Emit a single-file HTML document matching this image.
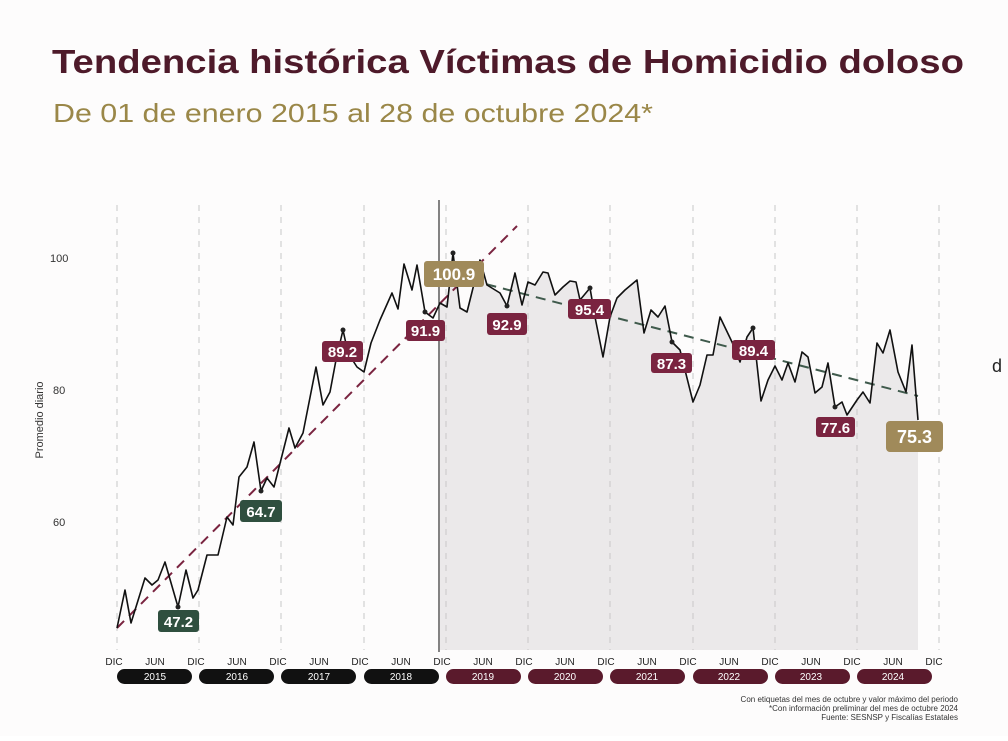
<!DOCTYPE html>
<html><head><meta charset="utf-8"><style>
html,body{margin:0;padding:0;background:#fff;}
body{width:1008px;height:736px;overflow:hidden;font-family:"Liberation Sans",sans-serif;}
</style></head><body>
<svg width="1008" height="736" viewBox="0 0 1008 736" xmlns="http://www.w3.org/2000/svg" font-family="Liberation Sans, sans-serif">
<rect width="1008" height="736" fill="#fdfcfc"/>
<text x="52" y="73" font-size="33" font-weight="bold" fill="#4e1a2a" textLength="912" lengthAdjust="spacingAndGlyphs">Tendencia histórica Víctimas de Homicidio doloso</text>
<text x="53" y="122" font-size="26" fill="#9a8748" textLength="600" lengthAdjust="spacingAndGlyphs">De 01 de enero 2015 al 28 de octubre 2024*</text>
<text x="992" y="372" font-size="18" fill="#222">d</text>
<polygon fill="#ebe9ea" points="440,303 447,307 453,253 460,308 467,312 480,260 487,285 500,293 507,306 515,273 522,305 528,282 535,285 543,272 548,273 555,295 563,287 570,281 576,282 580,300 590,288 595,317 603,357 610,317 617,298 625,290 637,280 644,333 651,310 658,317 665,306 672,342 680,350 693,402 700,385 707,355 713,355 720,317 732,342 740,362 747,337 753,328 761,401 768,380 775,366 782,380 788,363 795,382 802,352 808,357 815,393 822,387 828,363 835,407 842,402 847,415 857,400 863,392 870,403 877,343 883,353 890,330 898,372 906,392 912,345 918,420 918,650 440,650"/>
<g stroke="#c8c8c8" stroke-width="1" stroke-dasharray="6,6">
<line x1="117" y1="205" x2="117" y2="650"/><line x1="199" y1="205" x2="199" y2="650"/><line x1="281" y1="205" x2="281" y2="650"/><line x1="364" y1="205" x2="364" y2="650"/><line x1="446" y1="205" x2="446" y2="650"/><line x1="528" y1="205" x2="528" y2="650"/><line x1="610" y1="205" x2="610" y2="650"/><line x1="693" y1="205" x2="693" y2="650"/><line x1="775" y1="205" x2="775" y2="650"/><line x1="857" y1="205" x2="857" y2="650"/><line x1="939" y1="205" x2="939" y2="650"/>
</g>
<line x1="439" y1="200" x2="439" y2="652" stroke="#333" stroke-width="1.2"/>
<g font-size="11" fill="#333">
<text x="50" y="262">100</text><text x="53" y="394">80</text><text x="53" y="526">60</text>
<text transform="translate(43,420) rotate(-90)" text-anchor="middle" font-size="11">Promedio diario</text>
</g>
<line x1="117" y1="628" x2="517" y2="226" stroke="#7a2440" stroke-width="2" stroke-dasharray="10,7"/>
<line x1="470" y1="280" x2="918" y2="396" stroke="#3f5a4c" stroke-width="2" stroke-dasharray="10,7"/>
<polyline fill="none" stroke="#111" stroke-width="1.6" stroke-linejoin="round" points="117,628 125,590 131,623 145,578 152,585 158,580 165,562 178,607 186,570 193,598 198,590 207,555 218,555 227,517 233,525 239,477 247,467 254,442 261,491 267,478 274,487 289,428 295,448 303,433 316,367 323,405 330,392 336,360 343,330 348,353 357,367 364,372 371,343 380,320 392,293 398,309 404,264 412,290 417,265 425,312 433,318 440,303 447,307 453,253 460,308 467,312 480,260 487,285 500,293 507,306 515,273 522,305 528,282 535,285 543,272 548,273 555,295 563,287 570,281 576,282 580,300 590,288 595,317 603,357 610,317 617,298 625,290 637,280 644,333 651,310 658,317 665,306 672,342 680,350 693,402 700,385 707,355 713,355 720,317 732,342 740,362 747,337 753,328 761,401 768,380 775,366 782,380 788,363 795,382 802,352 808,357 815,393 822,387 828,363 835,407 842,402 847,415 857,400 863,392 870,403 877,343 883,353 890,330 898,372 906,392 912,345 918,420"/>
<g fill="#222">
<circle cx="178" cy="607" r="2.5"/><circle cx="261" cy="491" r="2.5"/><circle cx="343" cy="330" r="2.5"/><circle cx="425" cy="312" r="2.5"/><circle cx="453" cy="253" r="2.5"/><circle cx="507" cy="306" r="2.5"/><circle cx="590" cy="288" r="2.5"/><circle cx="672" cy="342" r="2.5"/><circle cx="753" cy="328" r="2.5"/><circle cx="835" cy="407" r="2.5"/>
</g>
<g font-size="15" font-weight="bold" fill="#fff" text-anchor="middle">
<rect x="158" y="610" width="41" height="22" rx="3" fill="#2f4f3f"/><text x="178.5" y="627">47.2</text>
<rect x="240" y="500" width="42" height="22" rx="3" fill="#2f4f3f"/><text x="261" y="517">64.7</text>
<rect x="322" y="341" width="41" height="21" rx="3" fill="#7a2440"/><text x="342.5" y="357">89.2</text>
<rect x="406" y="320" width="39" height="21" rx="3" fill="#7a2440"/><text x="425.5" y="336">91.9</text>
<rect x="424" y="261" width="60" height="26" rx="3" fill="#a08a5a"/><text x="454" y="280" font-size="17">100.9</text>
<rect x="487" y="313" width="40" height="22" rx="3" fill="#7a2440"/><text x="507" y="330">92.9</text>
<rect x="568" y="299" width="43" height="20" rx="3" fill="#7a2440"/><text x="589.5" y="315">95.4</text>
<rect x="651" y="353" width="41" height="20" rx="3" fill="#7a2440"/><text x="671.5" y="369">87.3</text>
<rect x="732" y="340" width="43" height="20" rx="3" fill="#7a2440"/><text x="753.5" y="356">89.4</text>
<rect x="816" y="417" width="39" height="20" rx="3" fill="#7a2440"/><text x="835.5" y="433">77.6</text>
<rect x="886" y="421" width="57" height="31" rx="4" fill="#a08a5a"/><text x="914.5" y="443" font-size="18">75.3</text>
</g>
<g font-size="10" fill="#222" text-anchor="middle">
<text x="114" y="665">DIC</text><text x="155" y="665">JUN</text><text x="196" y="665">DIC</text><text x="237" y="665">JUN</text><text x="278" y="665">DIC</text><text x="319" y="665">JUN</text><text x="360" y="665">DIC</text><text x="401" y="665">JUN</text><text x="442" y="665">DIC</text><text x="483" y="665">JUN</text><text x="524" y="665">DIC</text><text x="565" y="665">JUN</text><text x="606" y="665">DIC</text><text x="647" y="665">JUN</text><text x="688" y="665">DIC</text><text x="729" y="665">JUN</text><text x="770" y="665">DIC</text><text x="811" y="665">JUN</text><text x="852" y="665">DIC</text><text x="893" y="665">JUN</text><text x="934" y="665">DIC</text>
</g>
<g font-size="10" text-anchor="middle" fill="#fff">
<rect x="117" y="669" width="75" height="15" rx="7.5" fill="#111"/><text x="155" y="680">2015</text>
<rect x="199" y="669" width="75" height="15" rx="7.5" fill="#111"/><text x="237" y="680">2016</text>
<rect x="281" y="669" width="75" height="15" rx="7.5" fill="#111"/><text x="319" y="680">2017</text>
<rect x="364" y="669" width="75" height="15" rx="7.5" fill="#111"/><text x="401" y="680">2018</text>
<rect x="446" y="669" width="75" height="15" rx="7.5" fill="#5a1a2c"/><text x="483" y="680">2019</text>
<rect x="528" y="669" width="75" height="15" rx="7.5" fill="#5a1a2c"/><text x="565" y="680">2020</text>
<rect x="610" y="669" width="75" height="15" rx="7.5" fill="#5a1a2c"/><text x="647" y="680">2021</text>
<rect x="693" y="669" width="75" height="15" rx="7.5" fill="#5a1a2c"/><text x="729" y="680">2022</text>
<rect x="775" y="669" width="75" height="15" rx="7.5" fill="#5a1a2c"/><text x="811" y="680">2023</text>
<rect x="857" y="669" width="75" height="15" rx="7.5" fill="#5a1a2c"/><text x="893" y="680">2024</text>
</g>
<g font-size="8" fill="#333" text-anchor="end">
<text x="958" y="702">Con etiquetas del mes de octubre y valor máximo del periodo</text>
<text x="958" y="711">*Con información preliminar del mes de octubre 2024</text>
<text x="958" y="720">Fuente: SESNSP y Fiscalías Estatales</text>
</g>
</svg>
</body></html>
